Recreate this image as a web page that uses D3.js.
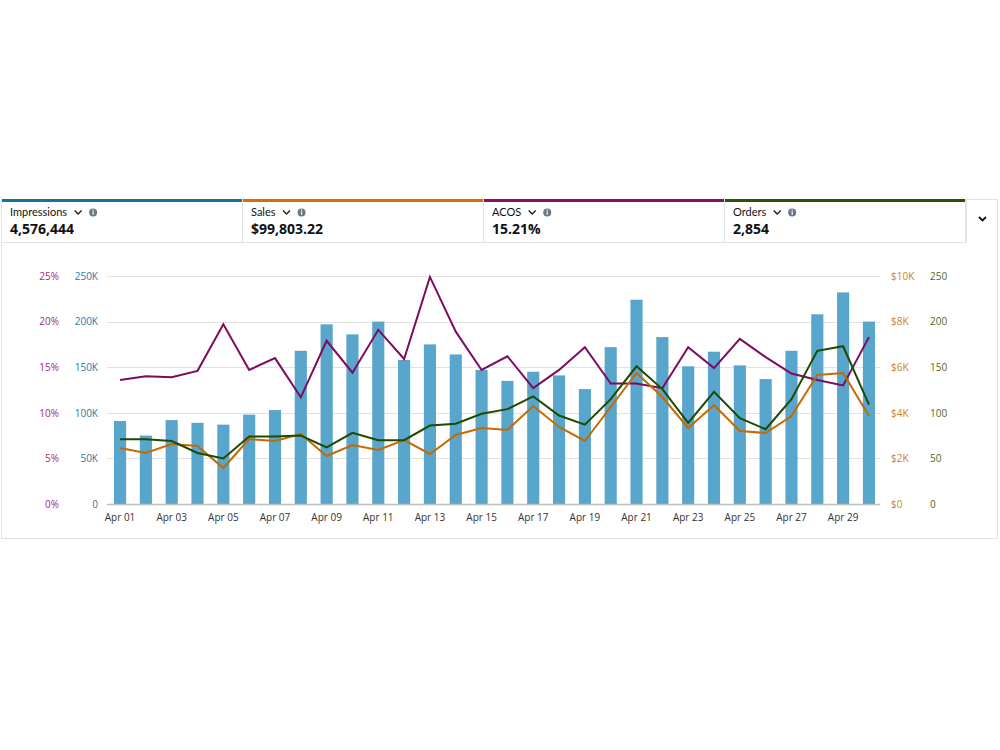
<!DOCTYPE html>
<html><head><meta charset="utf-8">
<script src="https://cdn.jsdelivr.net/npm/d3@7"></script>
<style>
html,body{margin:0;padding:0;background:#fff;}
svg{display:block;font-family:"Open Sans","Noto Sans",Arial,sans-serif;}
</style></head>
<body><svg id="c" width="1000" height="750"></svg>
<script>
const days = ["Apr 01","Apr 02","Apr 03","Apr 04","Apr 05","Apr 06","Apr 07","Apr 08","Apr 09","Apr 10","Apr 11","Apr 12","Apr 13","Apr 14","Apr 15","Apr 16","Apr 17","Apr 18","Apr 19","Apr 20","Apr 21","Apr 22","Apr 23","Apr 24","Apr 25","Apr 26","Apr 27","Apr 28","Apr 29","Apr 30"];
const impressions = [91000,75000,92000,89000,87000,98000,103000,168000,197000,186000,200000,158000,175000,164000,147000,135000,145000,141000,126000,172000,224000,183000,151000,167000,152000,137000,168000,208000,232000,200000];
const sales = [2456,2237,2630,2544,1579,2850,2763,3070,2105,2588,2368,2807,2193,3026,3333,3245,4298,3377,2763,4254,5746,4693,3333,4342,3202,3114,3860,5658,5746,3860];
const acos = [13.6,14.0,13.9,14.6,19.7,14.7,16.0,11.7,17.9,14.4,19.1,15.9,24.9,18.9,14.7,16.2,12.7,14.7,17.2,13.2,13.2,12.7,17.2,14.9,18.1,16.1,14.3,13.6,13.0,18.3];
const orders = [71,71,69,56,50,74,74,75,62,78,70,70,86,88,99,104,118,97,87,115,151,126,89,123,94,82,115,168,173,109];
const metricNames = ["Impressions","Sales","ACOS","Orders"];
const metricTotals = ["4,576,444","$99,803.22","15.21%","2,854"];
const impTicks = [0,50000,100000,150000,200000,250000];
const acosTicks = [0,5,10,15,20,25];
const salesTicks = [0,2000,4000,6000,8000,10000];
const orderTicks = [0,50,100,150,200,250];
const xTickLabels = days.filter((d,i)=>i%2===0);

const C = {imp:"#1a6fa3", sales:"#dd6b00", acos:"#8a0c6a", orders:"#2c5400",
  bar:"#58a6cb", acosLine:"#7d0b5f", salesLine:"#c66a00", ordersLine:"#1e4a00"};
const svg = d3.select("#c");

// card
svg.append("rect").attr("x",1.5).attr("y",199.5).attr("width",996).attr("height",339).attr("fill","#fff").attr("stroke","#e3e3e3");
// header cells
const cellX = [2,243,484,725], cellW = 241;
const cellColors = [C.imp,C.sales,C.acos,C.orders];
cellX.forEach((x,i)=>{
  svg.append("rect").attr("x",x).attr("y",199).attr("width",cellW-1).attr("height",3).attr("fill",cellColors[i]);
  svg.append("line").attr("x1",x+cellW-0.5).attr("x2",x+cellW-0.5).attr("y1",199).attr("y2",242).attr("stroke","#e3e3e3");
  const t = svg.append("text").attr("x",x+8).attr("y",216).attr("font-size",11).attr("font-family","Lato,'Open Sans',sans-serif").attr("fill","#111").text(metricNames[i]);
  const w = t.node().getComputedTextLength();
  const cx = x+8+w+11;
  svg.append("path").attr("d",`M${cx-3.5},${210.5} L${cx},${214} L${cx+3.5},${210.5}`).attr("fill","none").attr("stroke","#222").attr("stroke-width",1.4);
  svg.append("circle").attr("cx",cx+15).attr("cy",212.5).attr("r",4).attr("fill","#6b7785");
  svg.append("rect").attr("x",cx+14.4).attr("y",211.5).attr("width",1.2).attr("height",3.2).attr("fill","#fff");
  svg.append("circle").attr("cx",cx+15).attr("cy",210.2).attr("r",0.7).attr("fill","#fff");
  svg.append("text").attr("x",x+8).attr("y",234).attr("font-size",14).attr("font-weight","bold").attr("fill","#111").text(metricTotals[i]);
});
svg.append("line").attr("x1",2).attr("x2",966).attr("y1",242.5).attr("y2",242.5).attr("stroke","#e3e3e3");
svg.append("line").attr("x1",966.5).attr("x2",966.5).attr("y1",199).attr("y2",242).attr("stroke","#e3e3e3");
svg.append("path").attr("d","M979,217 L982.5,220.5 L986,217").attr("fill","none").attr("stroke","#111").attr("stroke-width",1.8);

// scales
const x = d3.scaleBand().domain(days).range([107,882]).paddingInner(0.53).paddingOuter(0.27);
const yTop = 276, yBot = 504;
const yImp = d3.scaleLinear().domain([0,250000]).range([yBot,yTop]);
const yAcos = d3.scaleLinear().domain([0,25]).range([yBot,yTop]);
const ySales = d3.scaleLinear().domain([0,10000]).range([yBot,yTop]);
const yOrd = d3.scaleLinear().domain([0,250]).range([yBot,yTop]);

// gridlines
svg.append("g").selectAll("line").data(impTicks.slice(1)).join("line")
  .attr("x1",107).attr("x2",880).attr("y1",d=>Math.round(yImp(d))+0.5).attr("y2",d=>Math.round(yImp(d))+0.5)
  .attr("stroke","#e2e2e2");

// axes
function styleAxis(g,color){
  g.select(".domain").remove();
  g.selectAll(".tick line").remove();
  g.selectAll("text").attr("fill",color).attr("font-size",10).attr("font-family","'Open Sans','Noto Sans',Arial,sans-serif");
}
svg.append("g").attr("transform","translate(100,0)")
  .call(d3.axisLeft(yImp).tickValues(impTicks).tickSize(0).tickPadding(2).tickFormat(d=>d===0?"0":(d/1000)+"K"))
  .call(g=>styleAxis(g,"#1f7aa6"));
svg.append("g").attr("transform","translate(61,0)")
  .call(d3.axisLeft(yAcos).tickValues(acosTicks).tickSize(0).tickPadding(2).tickFormat(d=>d+"%"))
  .call(g=>styleAxis(g,"#a12d72"));
svg.append("g").attr("transform","translate(889,0)")
  .call(d3.axisRight(ySales).tickValues(salesTicks).tickSize(0).tickPadding(2).tickFormat(d=>d===0?"$0":"$"+(d/1000)+"K"))
  .call(g=>styleAxis(g,"#d4820c"));
svg.append("g").attr("transform","translate(928,0)")
  .call(d3.axisRight(yOrd).tickValues(orderTicks).tickSize(0).tickPadding(2))
  .call(g=>styleAxis(g,"#55662b"));

// bars
svg.append("g").selectAll("rect").data(impressions).join("rect")
  .attr("x",(d,i)=>x(days[i])).attr("width",x.bandwidth())
  .attr("y",d=>yImp(d)).attr("height",d=>yBot-yImp(d)).attr("fill",C.bar);

// baseline
svg.append("line").attr("x1",107).attr("x2",880).attr("y1",504.5).attr("y2",504.5).attr("stroke","#bdbdbd").attr("stroke-width",1.5);

// x axis labels
svg.append("g").attr("transform","translate(0,506)")
  .call(d3.axisBottom(x).tickValues(xTickLabels).tickSize(0).tickPadding(8))
  .call(g=>styleAxis(g,"#333"));

const cxf = i=>x(days[i])+x.bandwidth()/2;
function drawLine(vals,scale,color){
  svg.append("path").datum(vals)
    .attr("d",d3.line().x((d,i)=>cxf(i)).y(d=>scale(d)))
    .attr("fill","none").attr("stroke",color).attr("stroke-width",2).attr("stroke-linejoin","miter");
}
drawLine(acos,yAcos,C.acosLine);
drawLine(sales,ySales,C.salesLine);
drawLine(orders,yOrd,C.ordersLine);
</script></body></html>
